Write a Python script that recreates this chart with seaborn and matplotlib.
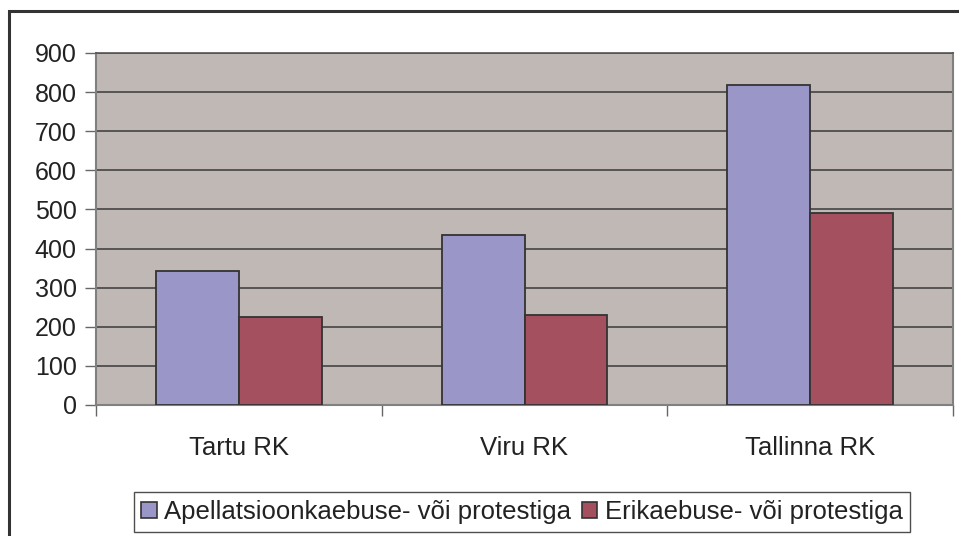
import pandas as pd
import numpy as np
import matplotlib
matplotlib.use("Agg")
import matplotlib.pyplot as plt
from matplotlib.patches import Rectangle
import seaborn as sns

# values
courts = ["Tartu RK", "Viru RK", "Tallinna RK"]
series_names = ["Apellatsioonkaebuse- või protestiga", "Erikaebuse- või protestiga"]
apellatsioon = [342, 434, 818]
erikaebus = [225, 230, 490]
y_ticks = [0, 100, 200, 300, 400, 500, 600, 700, 800, 900]

colors = ["#9A96C8", "#A5505F"]

df = pd.DataFrame({
    "court": courts * 2,
    "series": [series_names[0]] * 3 + [series_names[1]] * 3,
    "value": apellatsioon + erikaebus,
})

sns.set_style("white")
plt.rcParams["font.family"] = ["Liberation Sans", "DejaVu Sans"]

fig = plt.figure(figsize=(9.59, 5.36), dpi=100)
ax = fig.add_axes([96 / 959, 1 - 405 / 536, (953 - 96) / 959, (405 - 53) / 536])
ax.set_facecolor("#C0B8B5")

sns.barplot(data=df, x="court", y="value", hue="series", order=courts,
            hue_order=series_names, palette=colors, width=0.58,
            edgecolor="#333333", linewidth=1.3, saturation=1, ax=ax, zorder=3)

ax.set_ylim(0, 900)
ax.set_xlim(-0.5, 2.5)
ax.set_yticks(y_ticks)
ax.yaxis.grid(True, color="#444444", linewidth=1.2, zorder=0)
ax.set_axisbelow(True)
ax.set_xlabel("")
ax.set_ylabel("")

ax.tick_params(axis="y", labelsize=18, length=8, width=1, color="#666666",
               pad=6, labelcolor="#222222", left=True)
ax.tick_params(axis="x", which="major", labelsize=18.5, length=0, pad=22,
               labelcolor="#222222")
ax.set_xticks([-0.5, 0.5, 1.5, 2.5], minor=True)
ax.tick_params(axis="x", which="minor", length=8, width=1, color="#666666",
               bottom=True)

for side in ["left", "bottom", "right"]:
    ax.spines[side].set_color("#808080")
    ax.spines[side].set_linewidth(1.5)
ax.spines["top"].set_color("#555555")
ax.spines["top"].set_linewidth(1.2)

ax.get_legend().remove()
handles = [Rectangle((0, 0), 1, 1, facecolor=c, edgecolor="#333333", linewidth=1.2)
           for c in colors]
leg = fig.legend(handles, series_names, loc="center", bbox_to_anchor=(522 / 959, 1 - 512 / 536),
                 ncol=2, fontsize=18.5, frameon=True, fancybox=False,
                 handlelength=0.6, handleheight=0.6, handletextpad=0.3,
                 columnspacing=0.4, borderpad=0.3, borderaxespad=0)
leg.get_frame().set_edgecolor("#222222")
leg.get_frame().set_linewidth(1.0)
for t in leg.get_texts():
    t.set_color("#222222")

# outer chart border
fig.patches.append(Rectangle((9 / 959, -0.02), 1.0, 1 - 11 / 536 + 0.02,
                             transform=fig.transFigure, fill=False,
                             edgecolor="#333333", linewidth=2.2))

fig.savefig("out.png", dpi=100)
